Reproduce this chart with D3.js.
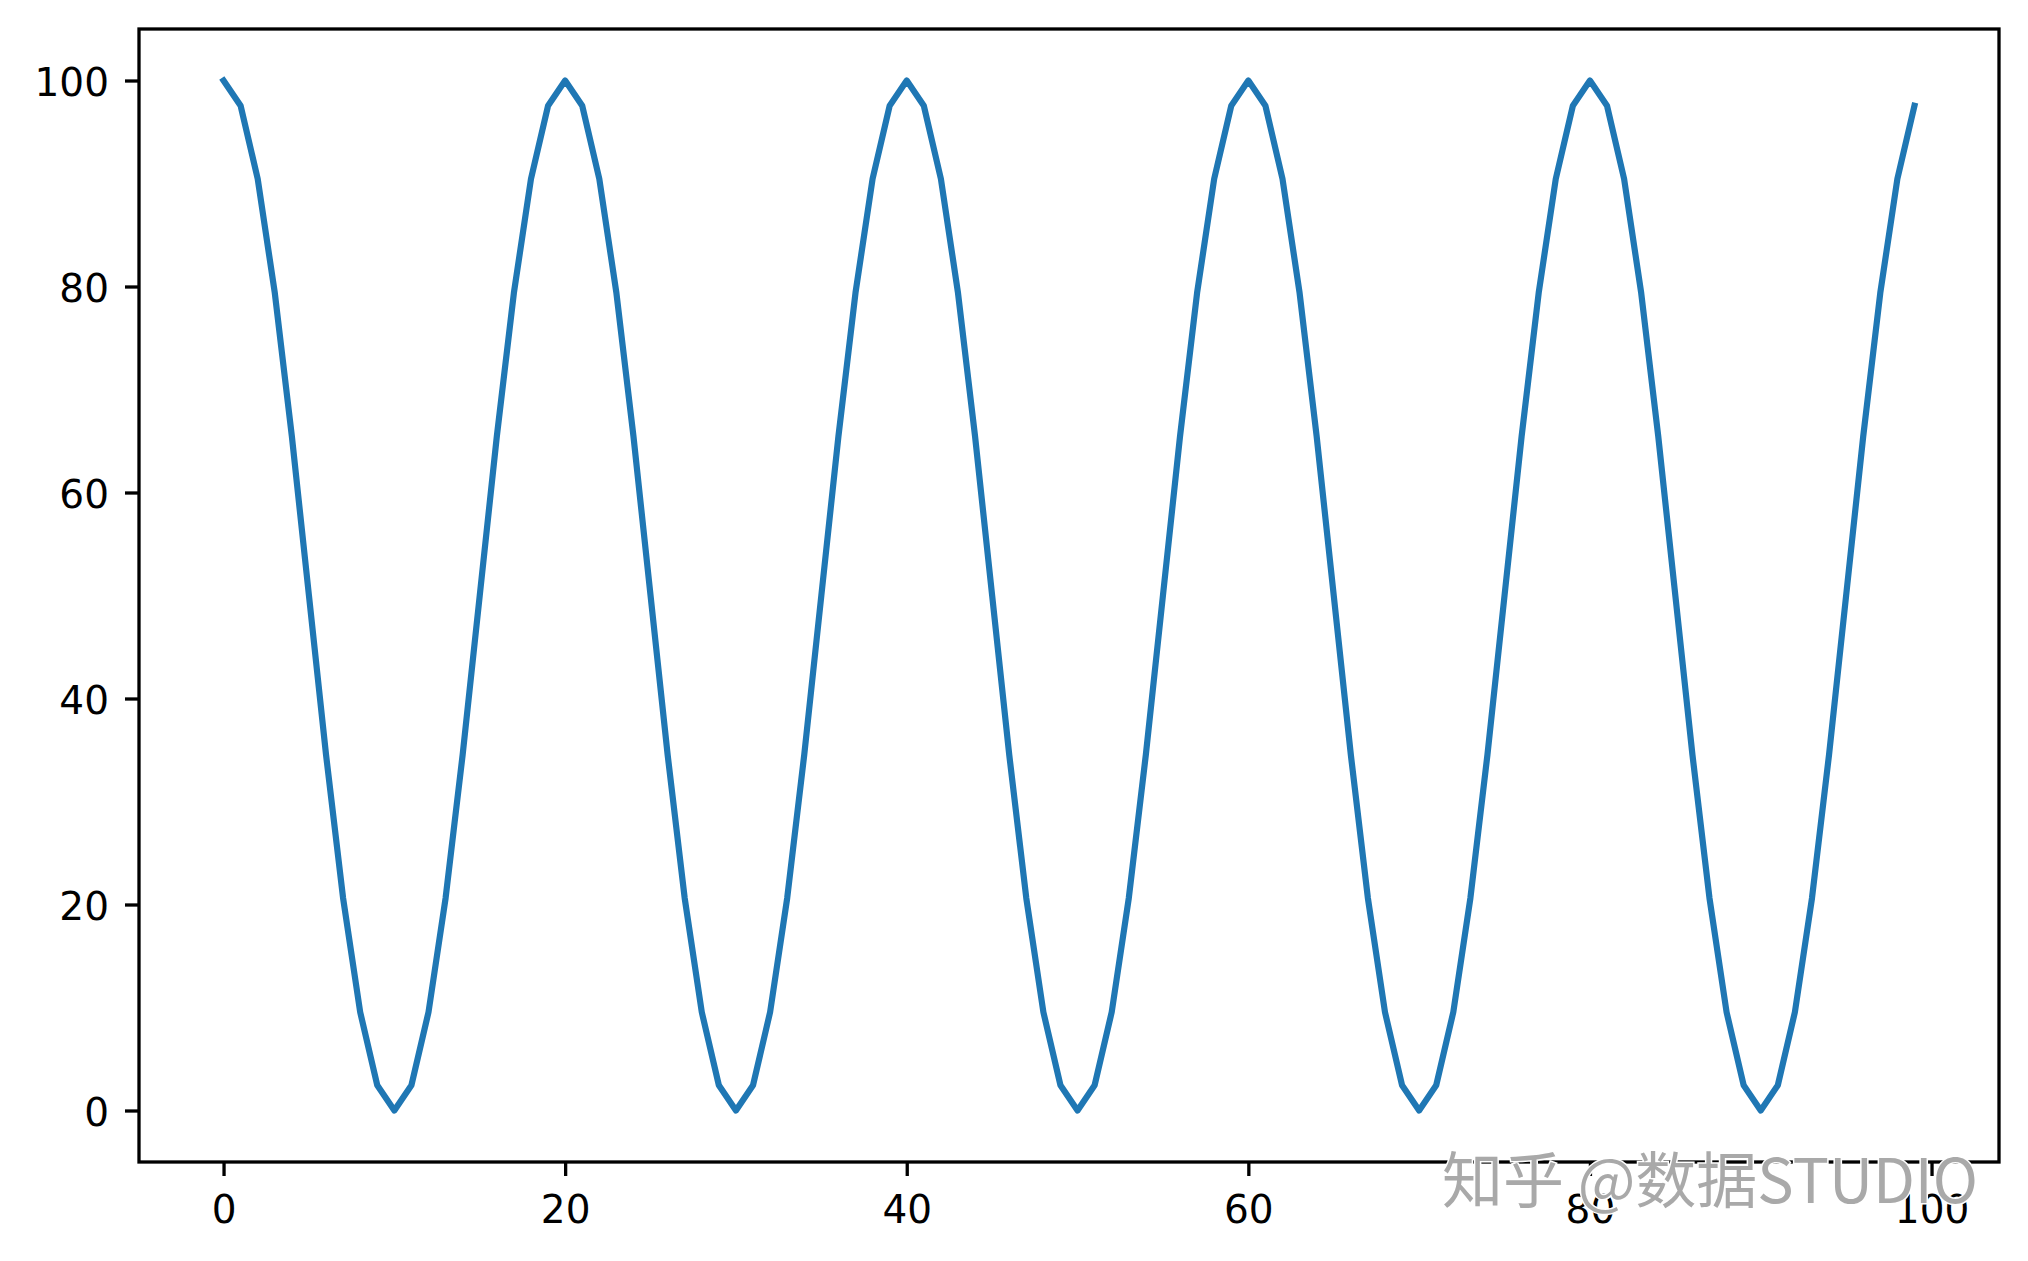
<!DOCTYPE html>
<html><head><meta charset="utf-8">
<script src="https://cdn.jsdelivr.net/npm/d3@7"></script>
<style>html,body{margin:0;padding:0;background:#fff;}</style>
</head><body>
<svg id="chart" width="2028" height="1261"></svg>
<script>
const xValues = [
 0,1,2,3,4,5,6,7,8,9,10,11,12,13,14,15,16,17,18,19,
 20,21,22,23,24,25,26,27,28,29,30,31,32,33,34,35,36,37,38,39,
 40,41,42,43,44,45,46,47,48,49,50,51,52,53,54,55,56,57,58,59,
 60,61,62,63,64,65,66,67,68,69,70,71,72,73,74,75,76,77,78,79,
 80,81,82,83,84,85,86,87,88,89,90,91,92,93,94,95,96,97,98,99];
const yValues = [
 100,97.55,90.45,79.39,65.45,50,34.55,20.61,9.55,2.45,0,2.45,9.55,20.61,34.55,50,65.45,79.39,90.45,97.55,
 100,97.55,90.45,79.39,65.45,50,34.55,20.61,9.55,2.45,0,2.45,9.55,20.61,34.55,50,65.45,79.39,90.45,97.55,
 100,97.55,90.45,79.39,65.45,50,34.55,20.61,9.55,2.45,0,2.45,9.55,20.61,34.55,50,65.45,79.39,90.45,97.55,
 100,97.55,90.45,79.39,65.45,50,34.55,20.61,9.55,2.45,0,2.45,9.55,20.61,34.55,50,65.45,79.39,90.45,97.55,
 100,97.55,90.45,79.39,65.45,50,34.55,20.61,9.55,2.45,0,2.45,9.55,20.61,34.55,50,65.45,79.39,90.45,97.55];
const xTicks = [0,20,40,60,80,100];
const yTicks = [0,20,40,60,80,100];
const watermark = "知乎 @数据STUDIO";

const L = 139, R = 1999, T = 29, B = 1162;
const svg = d3.select("#chart");
const x = d3.scaleLinear().domain([-4.95, 103.95]).range([L, R]);
const y = d3.scaleLinear().domain([-5, 105]).range([B, T]);

const font = "'DejaVu Sans', sans-serif";

const xAxis = svg.append("g").attr("transform", `translate(0,${B})`)
  .call(d3.axisBottom(x).tickValues(xTicks).tickFormat(d3.format("d")).tickSize(14).tickPadding(19));
const yAxis = svg.append("g").attr("transform", `translate(${L},0)`)
  .call(d3.axisLeft(y).tickValues(yTicks).tickFormat(d3.format("d")).tickSize(14).tickPadding(16));
[xAxis, yAxis].forEach(g => {
  g.select(".domain").remove();
  g.selectAll(".tick line").attr("stroke", "#000").attr("stroke-width", 3.3);
  g.selectAll(".tick text").attr("fill", "#000").style("font-family", font).style("font-size", "39px");
});
yAxis.selectAll(".tick text").attr("dy", "0.38em");

const line = d3.line().x((d, i) => x(xValues[i])).y(d => y(d));
svg.append("path").datum(yValues)
  .attr("d", line)
  .attr("fill", "none")
  .attr("stroke", "#1f77b4")
  .attr("stroke-width", 6.2)
  .attr("stroke-linejoin", "round")
  .attr("stroke-linecap", "square");

svg.append("rect").attr("x", L).attr("y", T).attr("width", R - L).attr("height", B - T)
  .attr("fill", "none").attr("stroke", "#000").attr("stroke-width", 3.3);

svg.append("text").attr("x", 1442).attr("y", 1203)
  .text(watermark)
  .style("font-family", "'Noto Sans CJK SC', sans-serif")
  .style("font-size", "61px")
  .attr("fill", "#a9a9a9")
  .attr("stroke", "#fff").attr("stroke-width", 3)
  .attr("paint-order", "stroke");
</script>
</body></html>
